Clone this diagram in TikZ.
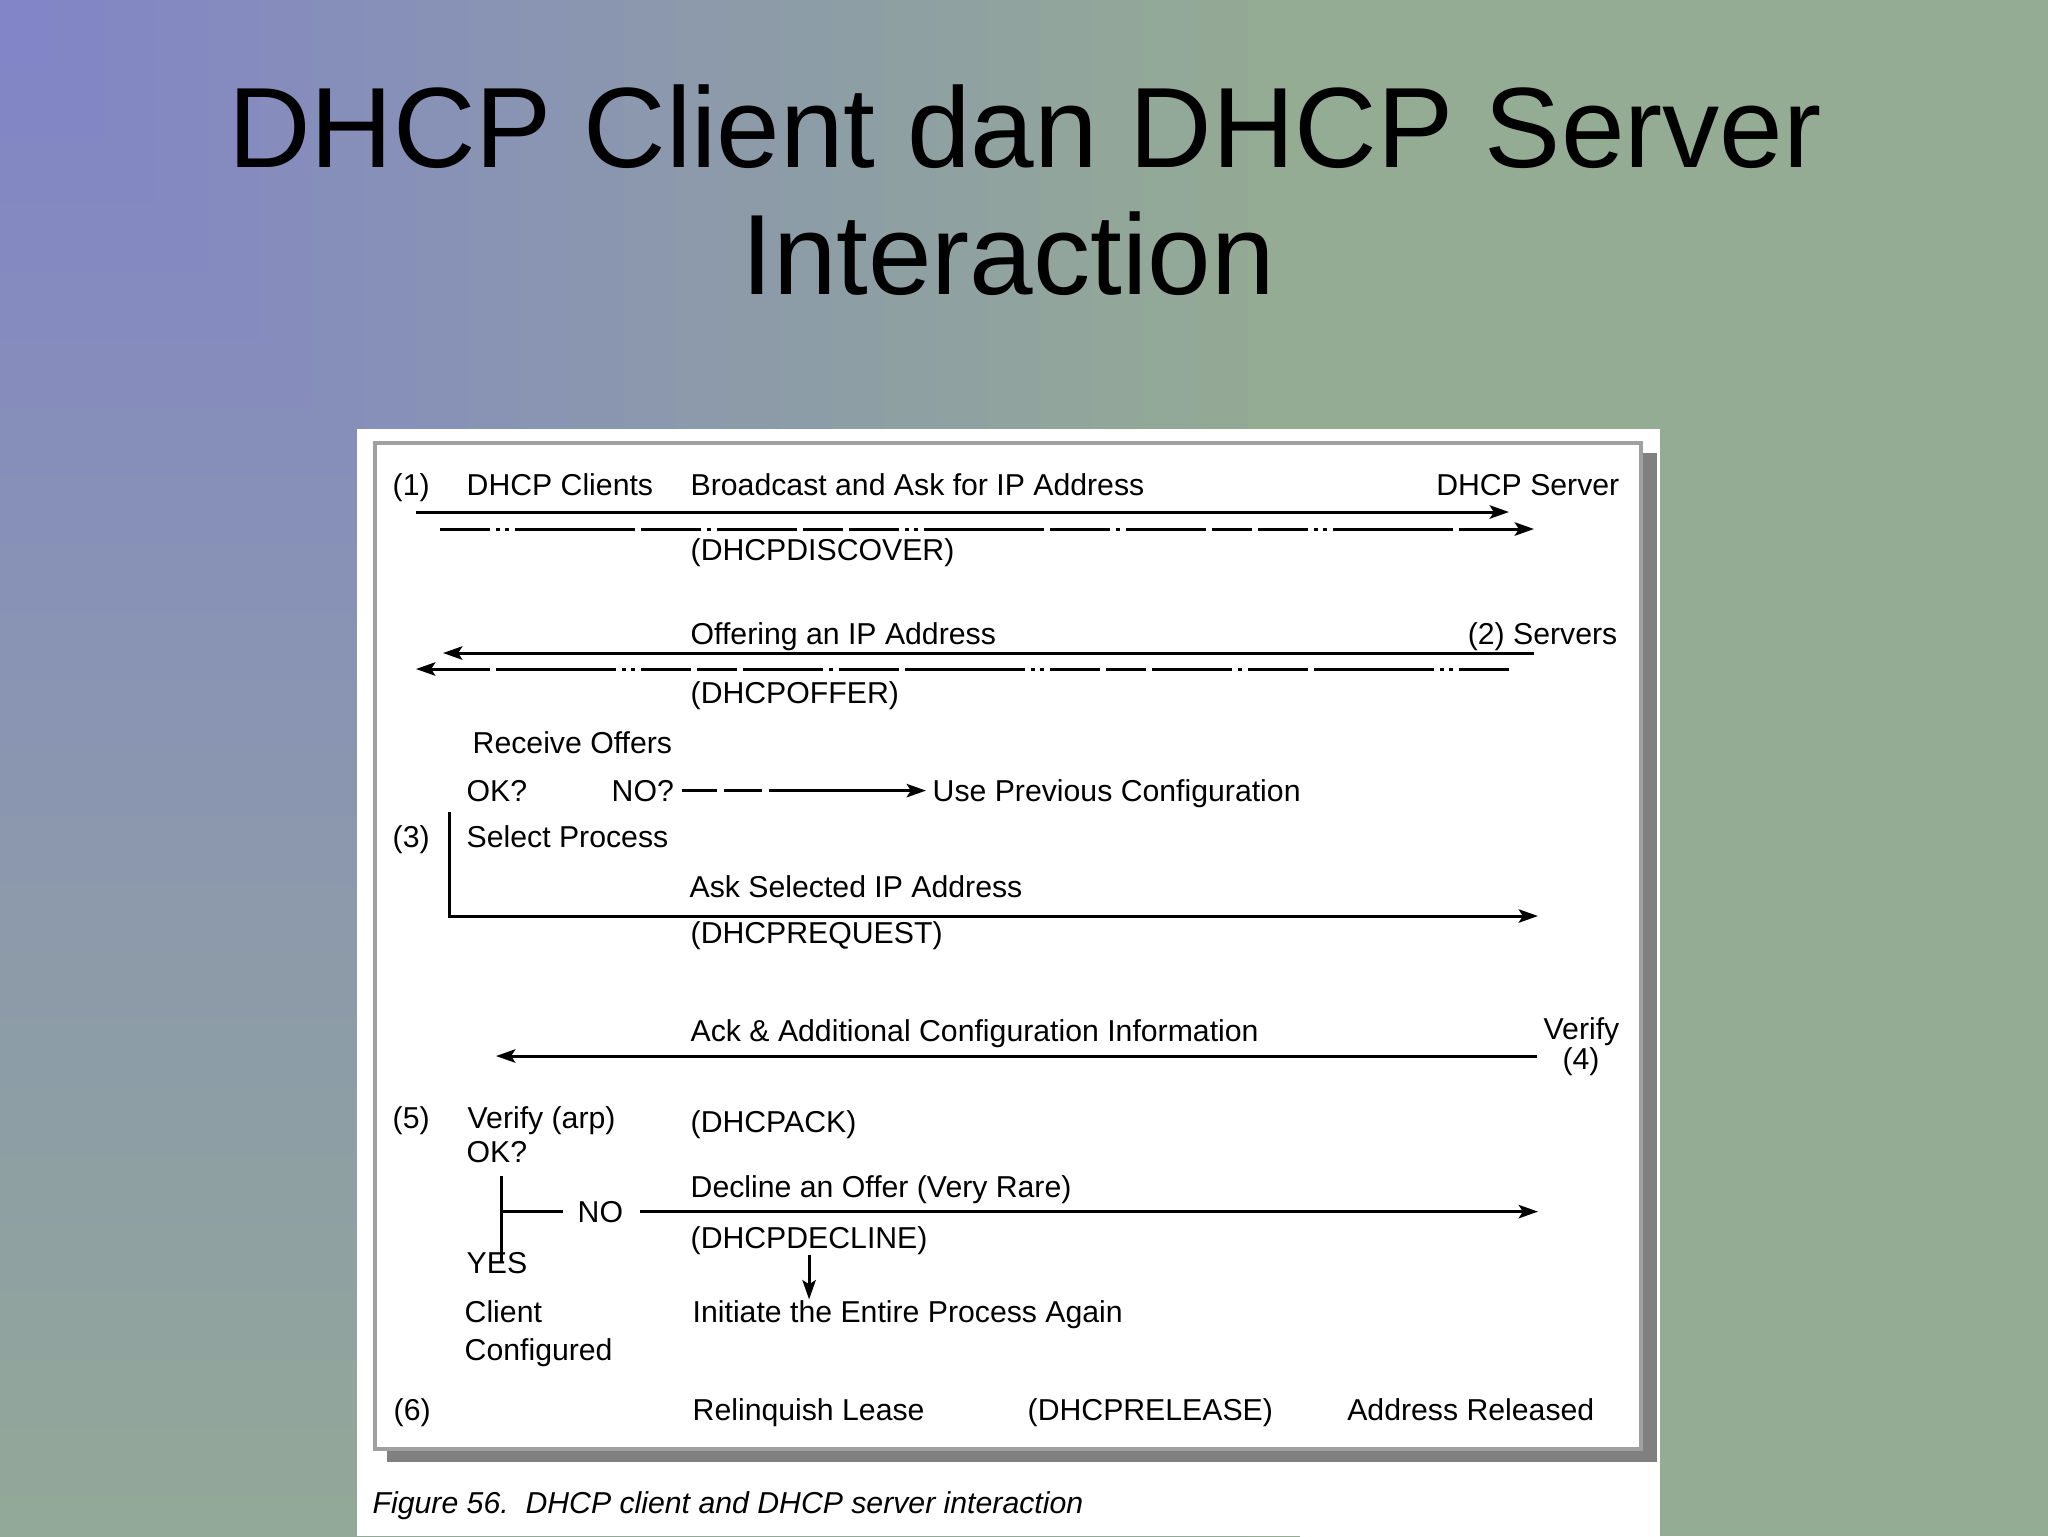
\documentclass[tikz,border=0pt]{standalone}
\usepackage{fontspec}
\setmainfont{Liberation Sans}
\usetikzlibrary{arrows.meta}

\definecolor{bgpurple}{RGB}{129,131,201}
\definecolor{bggreen}{RGB}{148,171,148}
\definecolor{framegray}{RGB}{160,160,160}
\definecolor{shadowgray}{RGB}{128,128,128}

\newcommand{\diafont}{\fontsize{8.6}{10}\selectfont}

\tikzset{
    txt/.style={anchor=base west, inner sep=0pt, font=\diafont},
    txtr/.style={anchor=base east, inner sep=0pt, font=\diafont},
    wire/.style={line width=0.3mm},
    msg/.style={wire, -{Stealth[length=5.5pt, width=3.8pt, inset=1.2pt]}},
    bcast/.style={msg, dash pattern=on 5mm off 0.6mm on 0.4mm off 0.5mm on 0.4mm off 0.6mm on 12mm off 0.6mm on 6mm off 0.6mm on 0.4mm off 0.6mm on 8mm off 0.6mm on 4mm off 0.6mm},
}

\begin{document}
\begin{tikzpicture}[x=0.1mm, y=-0.1mm]
    % slide background
    \useasboundingbox (0,0) rectangle (2048,1536);
    \fill [bggreen] (0,0) rectangle (2048,1536);
    \foreach \t in {25,...,1} {
        \pgfmathtruncatemacro{\pct}{4*\t}
        \fill [bggreen!\pct!bgpurple] (0,0) rectangle ({52*\t},{68*\t});
    }

    % title
    \node (title1) at (1025,167) [anchor=base, inner sep=0pt, font=\fontsize{32.5}{36}\selectfont] {DHCP Client dan DHCP Server};
    \node (title2) at (1008,294) [anchor=base, inner sep=0pt, font=\fontsize{32.5}{36}\selectfont] {Interaction};

    % figure panel
    \fill [white] (357,429) rectangle (1660,1536);
    \fill [shadowgray] (387,453) rectangle (1657,1462);
    \draw [framegray, line width=0.35mm, fill=white] (375,443) rectangle (1641,1449);

    % (1) discover
    \node [txt] (n1) at (392,495) {(1)};
    \node [txt] (clients) at (466,495) {DHCP Clients};
    \node [txt] (bcasttxt) at (690,495) {Broadcast and Ask for IP Address};
    \node [txtr] (server) at (1620,495) {DHCP Server};
    \coordinate (d1s) at (416,512);
    \coordinate (d1e) at (1509,512);
    \coordinate (d2s) at (440,529);
    \coordinate (d2e) at (1534,529);
    \draw [msg] (d1s) -- (d1e);
    \draw [bcast] (d2s) -- (d2e);
    \node [txt] (discover) at (690,560) {(DHCPDISCOVER)};

    % (2) offer
    \node [txt] (offering) at (690,644) {Offering an IP Address};
    \node [txtr] (servers) at (1618,644) {(2) Servers};
    \coordinate (o1s) at (1534,653);
    \coordinate (o1e) at (443,653);
    \coordinate (o2s) at (1509,669);
    \coordinate (o2e) at (416,669);
    \draw [msg] (o1s) -- (o1e);
    \draw [bcast] (o2s) -- (o2e);
    \node [txt] (offer) at (690,703) {(DHCPOFFER)};

    % (3) request
    \node [txt] (receive) at (472,753) {Receive Offers};
    \node [txt] (ok3) at (466,801) {OK?};
    \node [txt] (no3) at (611,801) {NO?};
    \node [txt] (useprev) at (932,801) {Use Previous Configuration};
    \draw [msg, dash pattern=on 3.5mm off 0.7mm on 3.8mm off 0.7mm on 30mm off 0.1mm, shorten <=0.7mm, shorten >=0.6mm] (no3.east) -- (no3.east -| useprev.west);
    \node [txt] (n3) at (392,847) {(3)};
    \node [txt] (select) at (466,847) {Select Process};
    \coordinate (r0) at (449,812);
    \coordinate (r1) at (449,916);
    \coordinate (r2) at (1538,916);
    \draw [msg] (r0) -- (r1) -- (r2);
    \node [txt] (asksel) at (689,897) {Ask Selected IP Address};
    \node [txt] (request) at (690,943) {(DHCPREQUEST)};

    % (4) ack
    \node [txt] (acktxt) at (690,1041) {Ack \& Additional Configuration Information};
    \node [txtr] (verify4) at (1620,1039) {Verify};
    \node [anchor=base, inner sep=0pt, font=\diafont] (n4) at (1581,1069) {(4)};
    \coordinate (a0) at (1537,1056);
    \coordinate (a1) at (496,1056);
    \draw [msg] (a0) -- (a1);

    % (5) verify
    \node [txt] (n5) at (392,1128) {(5)};
    \node [txt] (verarp) at (467,1128) {Verify (arp)};
    \node [txt] (ack) at (690,1132) {(DHCPACK)};
    \node [txt] (ok5) at (466,1162) {OK?};
    \node [txt] (declinetxt) at (690,1197) {Decline an Offer (Very Rare)};
    \node [txt] (no5) at (577,1222) {NO};
    \node [txt] (decline) at (690,1248) {(DHCPDECLINE)};
    \node [txt] (yes) at (466,1273) {YES};
    \coordinate (v0) at (501,1176);
    \coordinate (v1) at (501,1263);
    \coordinate (nx) at (1538,1212);
    \draw [wire] (v0) -- (v1);
    \draw [wire, shorten >=1.4mm] (v0 |- no5.west) -- (no5.west);
    \draw [msg, shorten <=1.6mm] (no5.east) -- (no5.east -| nx);
    \node [txt] (client) at (464,1322) {Client};
    \node [txt] (configured) at (464,1360) {Configured};
    \node [txt] (initiate) at (692,1322) {Initiate the Entire Process Again};
    \draw [msg] (decline.south) -- (decline.south |- initiate.north);

    % (6) release
    \node [txt] (n6) at (393,1420) {(6)};
    \node [txt] (relinq) at (692,1420) {Relinquish Lease};
    \node [txt] (release) at (1027,1420) {(DHCPRELEASE)};
    \node [txtr] (released) at (1595,1420) {Address Released};

    % caption
    \node [txt, font=\diafont\itshape] (caption) at (372,1513) {Figure 56.\ \ DHCP client and DHCP server interaction};
\end{tikzpicture}
\end{document}
